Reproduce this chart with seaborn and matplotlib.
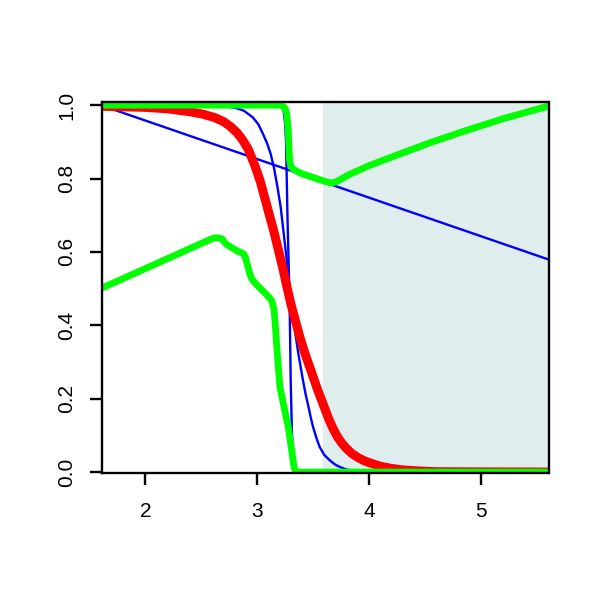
import matplotlib
matplotlib.use("Agg")
import matplotlib.pyplot as plt
import seaborn as sns

# --- values ---

# straight blue line
diag_x = [1.6, 5.6]
diag_y = [1.0, 0.58]

# smooth blue step
blue_x = [1.6, 2.5, 2.7, 2.80, 2.88, 2.96, 3.01, 3.05, 3.09, 3.12, 3.15, 3.18, 3.21, 3.23, 3.26, 3.29,
          3.325, 3.35, 3.37, 3.39, 3.41, 3.435, 3.46, 3.48, 3.50, 3.53, 3.56, 3.60, 3.65, 3.70, 3.74,
          3.80, 3.88, 4.0, 5.6]
blue_y = [1.0, 1.0, 0.997, 0.993, 0.985, 0.967, 0.948, 0.923, 0.895, 0.868, 0.83, 0.78, 0.723, 0.67,
          0.59, 0.50, 0.41, 0.36, 0.32, 0.285, 0.25, 0.21, 0.177, 0.148, 0.123, 0.093, 0.068, 0.047,
          0.032, 0.02, 0.014, 0.007, 0.003, 0.0, 0.0]

# sharp blue step
sharp_x = [1.6, 3.2, 3.235, 3.25, 3.258, 3.272, 3.29, 3.30, 3.31, 3.32, 3.34, 5.6]
sharp_y = [1.0, 1.0, 0.99, 0.95, 0.905, 0.686, 0.47, 0.25, 0.12, 0.04, 0.0, 0.0]

# thick red curve
red_x = [1.6, 2.0, 2.2, 2.4, 2.52, 2.62, 2.70, 2.76, 2.82, 2.87, 2.92, 2.98, 3.03, 3.07, 3.11, 3.15,
         3.19, 3.23, 3.27, 3.30, 3.34, 3.38, 3.42, 3.46, 3.50, 3.54, 3.59, 3.64, 3.68, 3.72, 3.76,
         3.80, 3.85, 3.90, 3.95, 4.0, 4.1, 4.2, 4.3, 4.45, 4.6, 5.6]
red_y = [0.997, 0.994, 0.99, 0.982, 0.975, 0.966, 0.955, 0.942, 0.925, 0.905, 0.88, 0.835, 0.79, 0.745,
         0.70, 0.655, 0.605, 0.555, 0.50, 0.46, 0.415, 0.37, 0.33, 0.295, 0.26, 0.225, 0.185, 0.145,
         0.118, 0.095, 0.078, 0.064, 0.05, 0.04, 0.032, 0.026, 0.016, 0.01, 0.006, 0.003, 0.001, 0.0]

# upper green curve
green_hi_x = [1.6, 3.21, 3.24, 3.255, 3.265, 3.273, 3.28, 3.285, 3.29, 3.30, 3.32, 3.36, 3.40, 3.47,
              3.53, 3.60, 3.655, 3.70, 3.83, 4.0, 4.25, 4.55, 4.85, 5.2, 5.6]
green_hi_y = [1.0, 1.0, 0.995, 0.988, 0.975, 0.95, 0.92, 0.88, 0.85, 0.835, 0.826, 0.819, 0.813, 0.806,
              0.80, 0.793, 0.788, 0.79, 0.812, 0.835, 0.864, 0.898, 0.929, 0.963, 0.997]

# lower green curve
green_lo_x = [1.6, 2.595, 2.62, 2.66, 2.684, 2.72, 2.76, 2.82, 2.877, 2.895, 2.91, 2.93, 2.95, 2.99,
              3.03, 3.08, 3.13, 3.15, 3.159, 3.18, 3.203, 3.239, 3.278, 3.308, 3.331, 3.347, 5.6]
green_lo_y = [0.5, 0.636, 0.638, 0.638, 0.636, 0.622, 0.614, 0.603, 0.595, 0.585, 0.568, 0.545, 0.527,
              0.512, 0.50, 0.485, 0.468, 0.445, 0.414, 0.324, 0.233, 0.179, 0.124, 0.061, 0.011, 0.0, 0.0]

x_ticks = [2, 3, 4, 5]
y_ticks = [0.0, 0.2, 0.4, 0.6, 0.8, 1.0]
y_labels = ["0.0", "0.2", "0.4", "0.6", "0.8", "1.0"]

shade_start = 3.59

# --- plot ---
sns.set_style("ticks")
plt.rcParams["font.family"] = ["Liberation Sans", "DejaVu Sans"]

fig = plt.figure(figsize=(6, 6), dpi=100)
ax = fig.add_axes([102.2 / 600, 1 - 473.2 / 600, 446.3 / 600, 371 / 600])

ax.axvspan(shade_start, 5.7, color="#e0eded", lw=0, zorder=0)

line_kw = dict(ax=ax, estimator=None, sort=False, legend=False)
sns.lineplot(x=diag_x, y=diag_y, color="#0000ff", linewidth=1.7, **line_kw)
sns.lineplot(x=blue_x, y=blue_y, color="#0000ff", linewidth=1.7, **line_kw)
sns.lineplot(x=sharp_x, y=sharp_y, color="#0000ff", linewidth=1.7, **line_kw)
sns.lineplot(x=red_x, y=red_y, color="#ff0000", linewidth=6.5, **line_kw)
sns.lineplot(x=green_hi_x, y=green_hi_y, color="#00ff00", linewidth=4.9, **line_kw)
sns.lineplot(x=green_lo_x, y=green_lo_y, color="#00ff00", linewidth=4.9, **line_kw)

ax.set_xlim(1.614, 5.606)
ax.set_ylim(-0.003, 1.008)
ax.set_xticks(x_ticks)
ax.set_xticklabels([str(t) for t in x_ticks])
ax.set_yticks(y_ticks)
ax.set_yticklabels(y_labels, rotation=90, va="center")
ax.set_xlabel("")
ax.set_ylabel("")

for spine in ax.spines.values():
    spine.set_visible(True)
    spine.set_color("black")
    spine.set_linewidth(1.7)

ax.tick_params(axis="both", direction="out", length=8.6, width=1.7, color="black",
               labelsize=15, labelcolor="black")
ax.tick_params(axis="x", pad=12)
ax.tick_params(axis="y", pad=10)

fig.savefig("out.png", dpi=100)
